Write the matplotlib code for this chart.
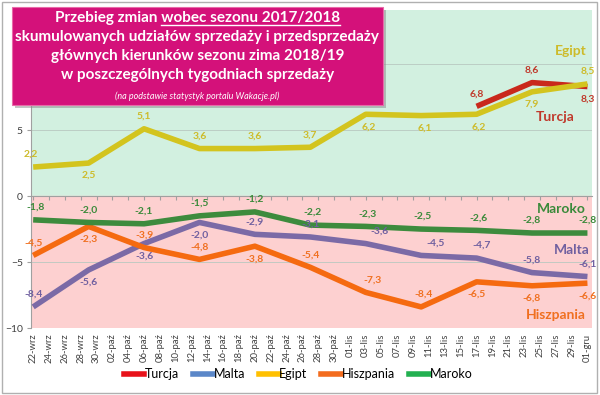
import matplotlib.pyplot as plt
import matplotlib.patches as patches
from matplotlib.lines import Line2D
import numpy as np
import pandas as pd

plt.rcParams['font.family'] = ['Lato', 'DejaVu Sans']

# dane tygodniowe
dates = ['2018-09-22', '2018-09-29', '2018-10-06', '2018-10-13', '2018-10-20', '2018-10-27',
         '2018-11-03', '2018-11-10', '2018-11-17', '2018-11-24', '2018-12-01']
turcja = [np.nan] * 8 + [6.8, 8.6, 8.3]
malta = [-8.4, -5.6, -3.6, -2.0, -2.9, -3.1, -3.6, -4.5, -4.7, -5.8, -6.1]
egipt = [2.2, 2.5, 5.1, 3.6, 3.6, 3.7, 6.2, 6.1, 6.2, 7.9, 8.5]
hiszpania = [-4.5, -2.3, -3.9, -4.8, -3.8, -5.4, -7.3, -8.4, -6.5, -6.8, -6.6]
maroko = [-1.8, -2.0, -2.1, -1.5, -1.2, -2.2, -2.3, -2.5, -2.6, -2.8, -2.8]

months = {9: 'wrz', 10: 'paź', 11: 'lis', 12: 'gru'}
start = pd.Timestamp('2018-09-22')
tick_days = pd.date_range('2018-09-22', '2018-12-01', freq='2D')
tick_labels = ['%02d-%s' % (d.day, months[d.month]) for d in tick_days]

x = np.array((pd.to_datetime(dates) - start).days)
xt = np.array((tick_days - start).days)

fig = plt.figure(figsize=(6, 3.95), dpi=100)
ax = fig.add_axes([0.052, 0.1696, 0.935, 0.805])
ax.set_xlim(-0.25, 70.6)
ax.set_ylim(-10, 14.1)
ax.set_facecolor('none')
ax.axhspan(0, 14.1, color='#d2f0e0', zorder=0)
ax.axhspan(-10, 0, color='#fdd0d0', zorder=0)
for g in [5, 10, -5]:
    ax.axhline(g, color='#b8c8c0', lw=0.6, zorder=1)

# serie: (nazwa, dane, kolor linii, kolor etykiet, kolor legendy, polozenie etykiet)
series = [
    ('Turcja', turcja, '#c9281c', '#c0392b', '#e8121a',
     [None] * 8 + [(1, 0), (1, 0), (-1, 0)]),
    ('Malta', malta, '#7b6aa6', '#7060a0', '#5b87c8',
     [(1, 0), (-1, 0), (-1, 0), (-1, 0), (1, 0), (1, 0), (1, 14), (1, 14), (1, 5), (1, 0), (1, 0)]),
    ('Egipt', egipt, '#d3c41e', '#cdbb2a', '#ffc000',
     [(1, -2), (-1, 0), (1, 0), (1, 0), (1, 0), (1, 0), (-1, 3), (-1, 4), (-1, 2), (-1, 0), (1, 0)]),
    ('Hiszpania', hiszpania, '#f56a10', '#f07020', '#f36c1e',
     [(1, 0), (-1, 0), (1, 0), (1, 0), (-1, 0), (1, 0), (1, 7), (1, 2), (-1, 0), (-1, 0), (-1, 0)]),
    ('Maroko', maroko, '#3d8b3d', '#3a8a3a', '#22b050',
     [(1, 2), (1, 0), (1, 0), (1, 0), (1, 0), (1, 2), (1, 2), (1, 1), (1, 2), (1, 0), (1, 0)]),
]

for i, (name, vals, lc, tc, _, pos) in enumerate(series):
    ax.plot(x, vals, color=lc, lw=4, solid_capstyle='butt', solid_joinstyle='round', zorder=3 + i)
    for xi, v, p in zip(x, vals, pos):
        if p is None or np.isnan(v):
            continue
        s, dx = p
        ax.annotate(('%.1f' % v).replace('.', ','), (xi, v), xytext=(dx * 0.72, s * 9),
                    textcoords='offset points', ha='center', va='center',
                    fontsize=7.5, fontweight='bold', color=tc, zorder=10)

# nazwy serii przy koncu linii
name_off = {'Egipt': (-12, 24), 'Turcja': (-23, -22), 'Maroko': (-19, 17),
            'Malta': (-11, 19), 'Hiszpania': (-23, -23)}
for name, vals, lc, tc, _, _ in series:
    dx, dy = name_off[name]
    ax.annotate(name, (x[-1], vals[-1]), xytext=(dx, dy), textcoords='offset points',
                ha='center', va='center', fontsize=10, fontweight='bold', color=tc, zorder=10)

# osie
ax.spines['top'].set_visible(False)
ax.spines['right'].set_visible(False)
ax.spines['left'].set_color('#a0a0a0')
ax.spines['bottom'].set_position(('data', 0))
ax.spines['bottom'].set_color('#a0a0a0')
ax.set_xticks(xt)
ax.tick_params(axis='x', direction='out', length=3, color='#a0a0a0', labelbottom=False)
ax.set_yticks([-10, -5, 0, 5, 10])
ax.tick_params(axis='y', direction='out', length=3, color='#a0a0a0', labelsize=7.5,
               labelcolor='#404040', pad=3)

sec = ax.secondary_xaxis(0.0)
sec.set_xticks(xt)
sec.set_xticklabels(tick_labels, rotation=90, fontsize=6.8, color='#404040')
sec.tick_params(length=0, pad=4)
sec.spines['bottom'].set_visible(False)

# legenda
handles = [Line2D([], [], color=s[4], lw=4) for s in series]
fig.legend(handles, [s[0] for s in series], loc='center', bbox_to_anchor=(0.497, 0.052), ncol=5,
           frameon=False, fontsize=9, handlelength=1.6, handletextpad=0.05, columnspacing=1.1)

# ramka wykresu
fig.patches.append(patches.Rectangle((0.004, 0.006), 0.991, 0.988, transform=fig.transFigure,
                                     fill=False, ec='#b0b0b0', lw=1))

# tytul w rozowym prostokacie
fig.patches.append(patches.Rectangle((0.025, 0.726), 0.618, 0.248, transform=fig.transFigure,
                                     fc='#8a8a8a', ec='none', alpha=0.5, zorder=20))
fig.patches.append(patches.Rectangle((0.02, 0.734), 0.618, 0.248, transform=fig.transFigure,
                                     fc='#d4117a', ec='#e86aa8', lw=0.8, zorder=21))
title_lines = ['Przebieg zmian wobec sezonu 2017/2018',
               'skumulowanych udziałów sprzedaży i przedsprzedaży',
               'głównych kierunków sezonu zima 2018/19',
               'w poszczególnych tygodniach sprzedaży']
ty = [0.954, 0.906, 0.858, 0.810]
txts = []
for t, yy in zip(title_lines, ty):
    txts.append(fig.text(0.329, yy, t, ha='center', va='center', color='white',
                         fontsize=11, fontweight='bold', zorder=22))
fig.text(0.329, 0.757, '(na podstawie statystyk portalu Wakacje.pl)', ha='center', va='center',
         color='white', fontsize=6.5, style='italic', zorder=22)

# podkreslenie "wobec sezonu 2017/2018"
fig.canvas.draw()
r = fig.canvas.get_renderer()
bb = txts[0].get_window_extent(r)
tmp = fig.text(0, 0, 'wobec sezonu 2017/2018', fontsize=11, fontweight='bold')
w = tmp.get_window_extent(r).width
tmp.remove()
W, H = fig.bbox.width, fig.bbox.height
fig.add_artist(Line2D([(bb.x1 - w) / W, bb.x1 / W], [(bb.y0 + 0.5) / H] * 2,
                      color='white', lw=1, zorder=22))

fig.savefig('out.png', dpi=100)
